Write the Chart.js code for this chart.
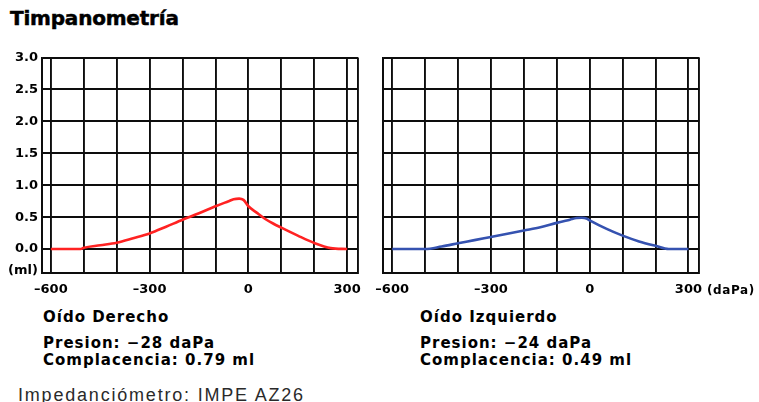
<!DOCTYPE html>
<html>
<head>
<meta charset="utf-8">
<script src="https://cdn.jsdelivr.net/npm/chart.js@4.4.1/dist/chart.umd.min.js"></script>
<style>
  html, body { margin: 0; padding: 0; background: #fff; }
  body { width: 759px; height: 402px; position: relative; overflow: hidden; font-family: "DejaVu Sans", sans-serif; }
  .t { position: absolute; white-space: nowrap; color: #000; font-weight: bold; }
  .info { font-size: 15px; line-height: 17px; letter-spacing: 1px; }
  .cv { position: absolute; }
</style>
</head>
<body>
<div class="t" id="title" style="left:10px; top:6px; font-size:20px; line-height:24px; letter-spacing:-0.2px; -webkit-text-stroke:0.5px #000;">Timpanometría</div>

<div class="cv" style="left:0px; top:40px; width:370px; height:265px;"><canvas id="right"></canvas></div>
<div class="cv" style="left:373px; top:40px; width:386px; height:265px;"><canvas id="left"></canvas></div>

<div class="t" id="unitX" style="left:707px; top:282px; font-size:12px; line-height:16px; letter-spacing:0.6px;">(daPa)</div>

<div class="t info" id="nameR" style="left:43px; top:309px;"></div>
<div class="t info" id="presR" style="left:43px; top:335px;"></div>
<div class="t info" id="compR" style="left:43px; top:352px;"></div>

<div class="t info" id="nameL" style="left:420px; top:309px;"></div>
<div class="t info" id="presL" style="left:420px; top:335px;"></div>
<div class="t info" id="compL" style="left:420px; top:352px;"></div>

<div class="t" style="left:18px; top:386px; font-size:18px; line-height:18px; letter-spacing:1.8px; font-weight:normal; font-family:'Liberation Sans', Arial, sans-serif; color:#2a2a2a;">Impedanciómetro: IMPE AZ26</div>

<script>
// Pressure axis (daPa) and compliance axis (ml)
const xMin = -627;
const xMax = 333;
const xGrid = [-600, -500, -400, -300, -200, -100, 0, 100, 200, 300];
const xLabelled = [-600, -300, 0, 300];
const yMin = -0.375;
const yMax = 3.0;
const yTicks = [0, 0.5, 1.0, 1.5, 2.0, 2.5, 3.0];
const yUnitPos = -0.33;
const yUnitLabel = '(ml)';

// Right ear (Oído Derecho)
const rightName = 'Oído Derecho';
const rightPeakPressure = -28;
const rightCompliance = 0.79;
const rightPressure = [-600, -510, -500, -450, -400, -350, -300, -250, -200, -150, -100, -60, -45, rightPeakPressure, -15, 0, 25, 50, 75, 100, 150, 200, 250, 300];
const rightAdmittance = [0, 0, 0.02, 0.06, 0.10, 0.17, 0.245, 0.35, 0.46, 0.56, 0.67, 0.75, 0.78, rightCompliance, 0.77, 0.67, 0.57, 0.475, 0.40, 0.335, 0.21, 0.095, 0.015, 0];

// Left ear (Oído Izquierdo)
const leftName = 'Oído Izquierdo';
const leftPeakPressure = -24;
const leftCompliance = 0.49;
const leftPressure = [-600, -500, -450, -400, -350, -300, -250, -200, -150, -100, -60, -40, leftPeakPressure, -10, 0, 50, 100, 150, 200, 240, 300];
const leftAdmittance = [0, 0, 0.04, 0.09, 0.14, 0.19, 0.24, 0.29, 0.34, 0.41, 0.46, 0.485, leftCompliance, 0.48, 0.45, 0.32, 0.21, 0.12, 0.05, 0, 0];

const fmtTick = v => (v < 0 ? '–' + Math.abs(v) : String(v));
const fmtText = v => (v < 0 ? '−' + Math.abs(v) : String(v));

document.getElementById('nameR').textContent = rightName;
document.getElementById('presR').textContent = 'Presion: ' + fmtText(rightPeakPressure) + ' daPa';
document.getElementById('compR').textContent = 'Complacencia: ' + rightCompliance.toFixed(2) + ' ml';
document.getElementById('nameL').textContent = leftName;
document.getElementById('presL').textContent = 'Presion: ' + fmtText(leftPeakPressure) + ' daPa';
document.getElementById('compL').textContent = 'Complacencia: ' + leftCompliance.toFixed(2) + ' ml';

const tickFont = { family: 'DejaVu Sans', size: 13, weight: 'bold' };
const gridColor = '#0d0d0d';

function makeChart(id, xs, ys, color, showY, yWidth, padRight) {
  const pts = xs.map((x, i) => ({ x: x, y: ys[i] }));
  return new Chart(document.getElementById(id), {
    type: 'line',
    data: {
      datasets: [{
        data: pts,
        borderColor: color,
        borderWidth: 2.6,
        pointRadius: 0,
        cubicInterpolationMode: 'monotone',
        fill: false
      }]
    },
    options: {
      responsive: true,
      maintainAspectRatio: false,
      animation: false,
      events: [],
      layout: { padding: { top: 17.5, right: padRight, left: 0, bottom: 0 } },
      plugins: { legend: { display: false }, tooltip: { enabled: false }, title: { display: false } },
      scales: {
        x: {
          type: 'linear',
          min: xMin,
          max: xMax,
          afterBuildTicks: axis => {
            axis.ticks = [xMin, ...xGrid, xMax].map(v => ({ value: v }));
          },
          afterFit: s => { s.height = 32; },
          grid: { color: gridColor, lineWidth: 1.9, drawTicks: false },
          border: { color: gridColor, width: 1.9 },
          ticks: {
            padding: 9,
            maxRotation: 0,
            autoSkip: false,
            color: '#000',
            font: tickFont,
            callback: v => (xLabelled.includes(v) ? fmtTick(v) : '')
          }
        },
        y: {
          type: 'linear',
          min: yMin,
          max: yMax,
          afterBuildTicks: axis => {
            const list = showY ? [yUnitPos, ...yTicks] : yTicks;
            axis.ticks = list.map(v => ({ value: v }));
          },
          afterFit: s => { s.width = yWidth; },
          grid: {
            color: ctx => (ctx.tick && ctx.tick.value === yUnitPos ? 'rgba(0,0,0,0)' : gridColor),
            lineWidth: 1.9,
            drawTicks: false
          },
          border: { color: gridColor, width: 1.9 },
          ticks: {
            display: showY,
            padding: 4,
            autoSkip: false,
            color: '#000',
            font: tickFont,
            callback: v => (v === yUnitPos ? yUnitLabel : v.toFixed(1))
          }
        }
      }
    }
  });
}

makeChart('right', rightPressure, rightAdmittance, '#ff2222', true, 42, 12);
makeChart('left', leftPressure, leftAdmittance, '#3552b0', false, 10.3, 59.7);
</script>
</body>
</html>
